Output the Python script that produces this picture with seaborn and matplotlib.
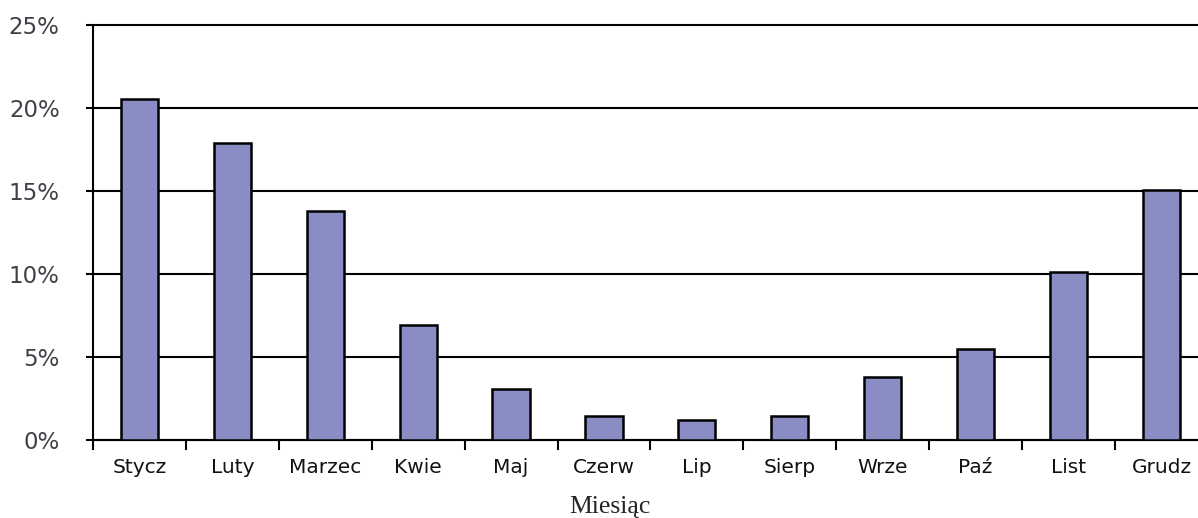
import pandas as pd
import matplotlib
import matplotlib.pyplot as plt
import seaborn as sns
from matplotlib.ticker import FuncFormatter

matplotlib.use('Agg')

# Data
months = ['Stycz', 'Luty', 'Marzec', 'Kwie', 'Maj', 'Czerw',
          'Lip', 'Sierp', 'Wrze', 'Paź', 'List', 'Grudz']
share = [20.5, 17.9, 13.8, 6.9, 3.07, 1.44, 1.2, 1.44, 3.8, 5.5, 10.1, 15.04]
y_ticks = [0, 5, 10, 15, 20, 25]

df = pd.DataFrame({'miesiac': months, 'udzial': share})

sns.set_style('white')
plt.rcParams['font.family'] = ['DejaVu Sans']

fig = plt.figure(figsize=(11.98, 5.18), dpi=100)
ax = fig.add_axes([0.0776, 0.1506, 0.9307, 0.802])

sns.barplot(data=df, x='miesiac', y='udzial', color='#8a8dc4', saturation=1,
            edgecolor='black', linewidth=1.8, width=0.4, ax=ax, zorder=3)

ax.set_ylim(0, 25)
ax.set_xlim(-0.5, len(months) - 0.5)
ax.set_yticks(y_ticks)
ax.yaxis.set_major_formatter(FuncFormatter(lambda v, p: f'{v:.0f}%'))
ax.tick_params(axis='y', length=5, width=1.5, color='black', labelsize=16.5,
               labelcolor='#404048', pad=19, direction='out', left=True)
ax.grid(axis='y', color='black', linewidth=1.5, zorder=1)
for gl in ax.get_ygridlines():
    gl.set_clip_on(False)

# category boundaries carry the tick marks, names sit on minor ticks
ax.set_xticks([i - 0.5 for i in range(len(months))])
ax.set_xticklabels([])
ax.set_xticks(range(len(months)), minor=True)
ax.set_xticklabels(months, minor=True)
ax.tick_params(axis='x', which='major', length=7, width=1.5, color='black',
               direction='out', bottom=True)
ax.tick_params(axis='x', which='minor', length=0, labelsize=14.5, pad=13,
               labelcolor='#111111')

for s in ['top', 'right']:
    ax.spines[s].set_visible(False)
for s in ['left', 'bottom']:
    ax.spines[s].set_color('black')
    ax.spines[s].set_linewidth(1.5)

ax.set_xlabel('')
ax.set_ylabel('')
fig.text(610 / 1198, 1 - 513 / 518, 'Miesiąc', ha='center', va='baseline',
         family='Liberation Serif', fontsize=18.5)

fig.savefig('out.png', dpi=100)
